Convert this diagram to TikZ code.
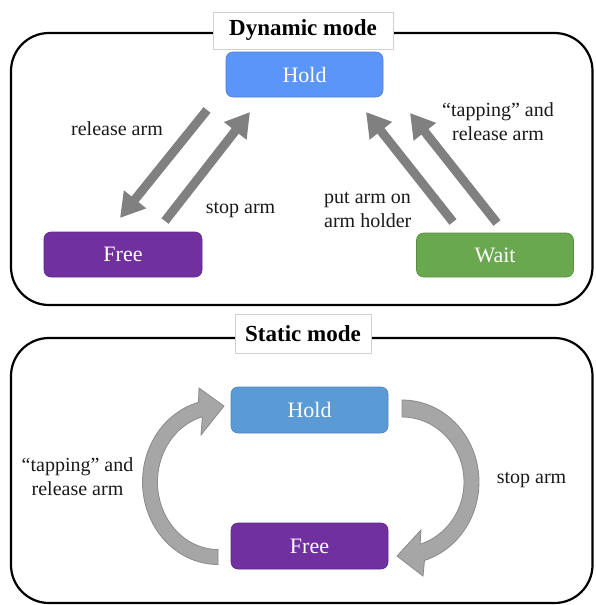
\documentclass[tikz,border=0pt]{standalone}
\usepackage{fontspec}
\setmainfont{Liberation Serif}
\usetikzlibrary{arrows.meta}
\definecolor{holdA}{RGB}{91,149,249}
\definecolor{holdB}{RGB}{91,155,213}
\definecolor{freeC}{RGB}{112,48,160}
\definecolor{waitC}{RGB}{106,168,79}
\definecolor{arrG}{RGB}{128,128,128}
\definecolor{arcG}{RGB}{166,166,166}
\definecolor{arcE}{RGB}{138,138,138}
\definecolor{txt}{RGB}{25,25,25}
\begin{document}
\begin{tikzpicture}[x=1pt,y=-1pt,
  frame/.style={draw=black, line width=2.2pt, rounded corners=38pt},
  titlebox/.style={draw=black!18, line width=0.6pt, fill=white, text=black,
    font=\fontsize{23}{26}\selectfont\bfseries, inner sep=0pt},
  state/.style={rounded corners=7pt, line width=0.6pt, text=white,
    font=\fontsize{22}{24}\selectfont, inner sep=0pt,
    minimum width=157pt, minimum height=45pt},
  lbl/.style={font=\fontsize{20}{24}\selectfont, text=txt, inner sep=0pt},
  bigarrow/.style={draw=arrG, line width=9pt, -{Triangle[width=27pt,length=24pt]}},
  ring/.style={fill=arcG, draw=arcE, line width=0.8pt},
]
\useasboundingbox (0,0) rectangle (595,605);

% ---------- Dynamic mode ----------
\draw[frame] (11,33) rectangle (592.5,305);
\node[titlebox, minimum width=180pt, minimum height=37pt] (dyn) at (303,30.5) {Dynamic mode};

\node[state, fill=holdA, draw=holdA!85!black] (hold1) at (304.5,74.5) {Hold};
\node[state, fill=freeC, draw=freeC!85!black, minimum width=158pt] (free1) at (123,254.5) {Free};
\node[state, fill=waitC, draw=waitC!85!black, minimum height=44pt] (wait1) at (495,255) {Wait};

\coordinate (ra1) at (207,110);
\coordinate (ra2) at (120,218);
\coordinate (sa1) at (165,221);
\coordinate (sa2) at (250,112);
\coordinate (pa1) at (453,222);
\coordinate (pa2) at (366,112);
\coordinate (ta1) at (497,223);
\coordinate (ta2) at (410,113);
\draw[bigarrow] (ra1) -- (ra2);
\draw[bigarrow] (sa1) -- (sa2);
\draw[bigarrow] (pa1) -- (pa2);
\draw[bigarrow] (ta1) -- (ta2);

% (multi-line nodes: base = baseline of the last line)
\node[lbl, anchor=base] (l1) at (117,135) {release arm};
\node[lbl, anchor=base] (l2) at (240.5,213) {stop arm};
\node[lbl, anchor=base west, align=left] (l3) at (324,227) {put arm on\\arm holder};
\node[lbl, anchor=base, align=center] (l4) at (498,140) {“tapping” and\\release arm};

% ---------- Static mode ----------
\draw[frame] (11,338) rectangle (592.5,603);
\node[titlebox, minimum width=136pt, minimum height=39pt] (sta) at (303,333.5) {Static mode};

\node[state, fill=holdB, draw=holdB!85!black, minimum height=46pt] (hold2) at (309.5,410) {Hold};
\node[state, fill=freeC, draw=freeC!85!black, minimum height=46pt] (free2) at (309.5,546) {Free};

% left curved arrow (Free -> Hold)
\fill[ring] plot[domain=90:255,samples=60] ({218+75.5*cos(\x)},{482+82.5*sin(\x)})
  -- (199,388) -- (224,406) -- (201,435)
  -- plot[domain=255:90,samples=60] ({218+60.5*cos(\x)},{482+67.5*sin(\x)}) -- cycle;
% right curved arrow (Hold -> Free)
\fill[ring] plot[domain=-90:73,samples=60] ({402+77*cos(\x)},{482+82*sin(\x)})
  -- (423,576) -- (397,556) -- (421,530)
  -- plot[domain=73:-90,samples=60] ({402+62*cos(\x)},{482+65*sin(\x)}) -- cycle;

\node[lbl, anchor=base, align=center] (l5) at (77.5,495) {“tapping” and\\release arm};
\node[lbl, anchor=base] (l6) at (531.5,483) {stop arm};
\end{tikzpicture}
\end{document}
